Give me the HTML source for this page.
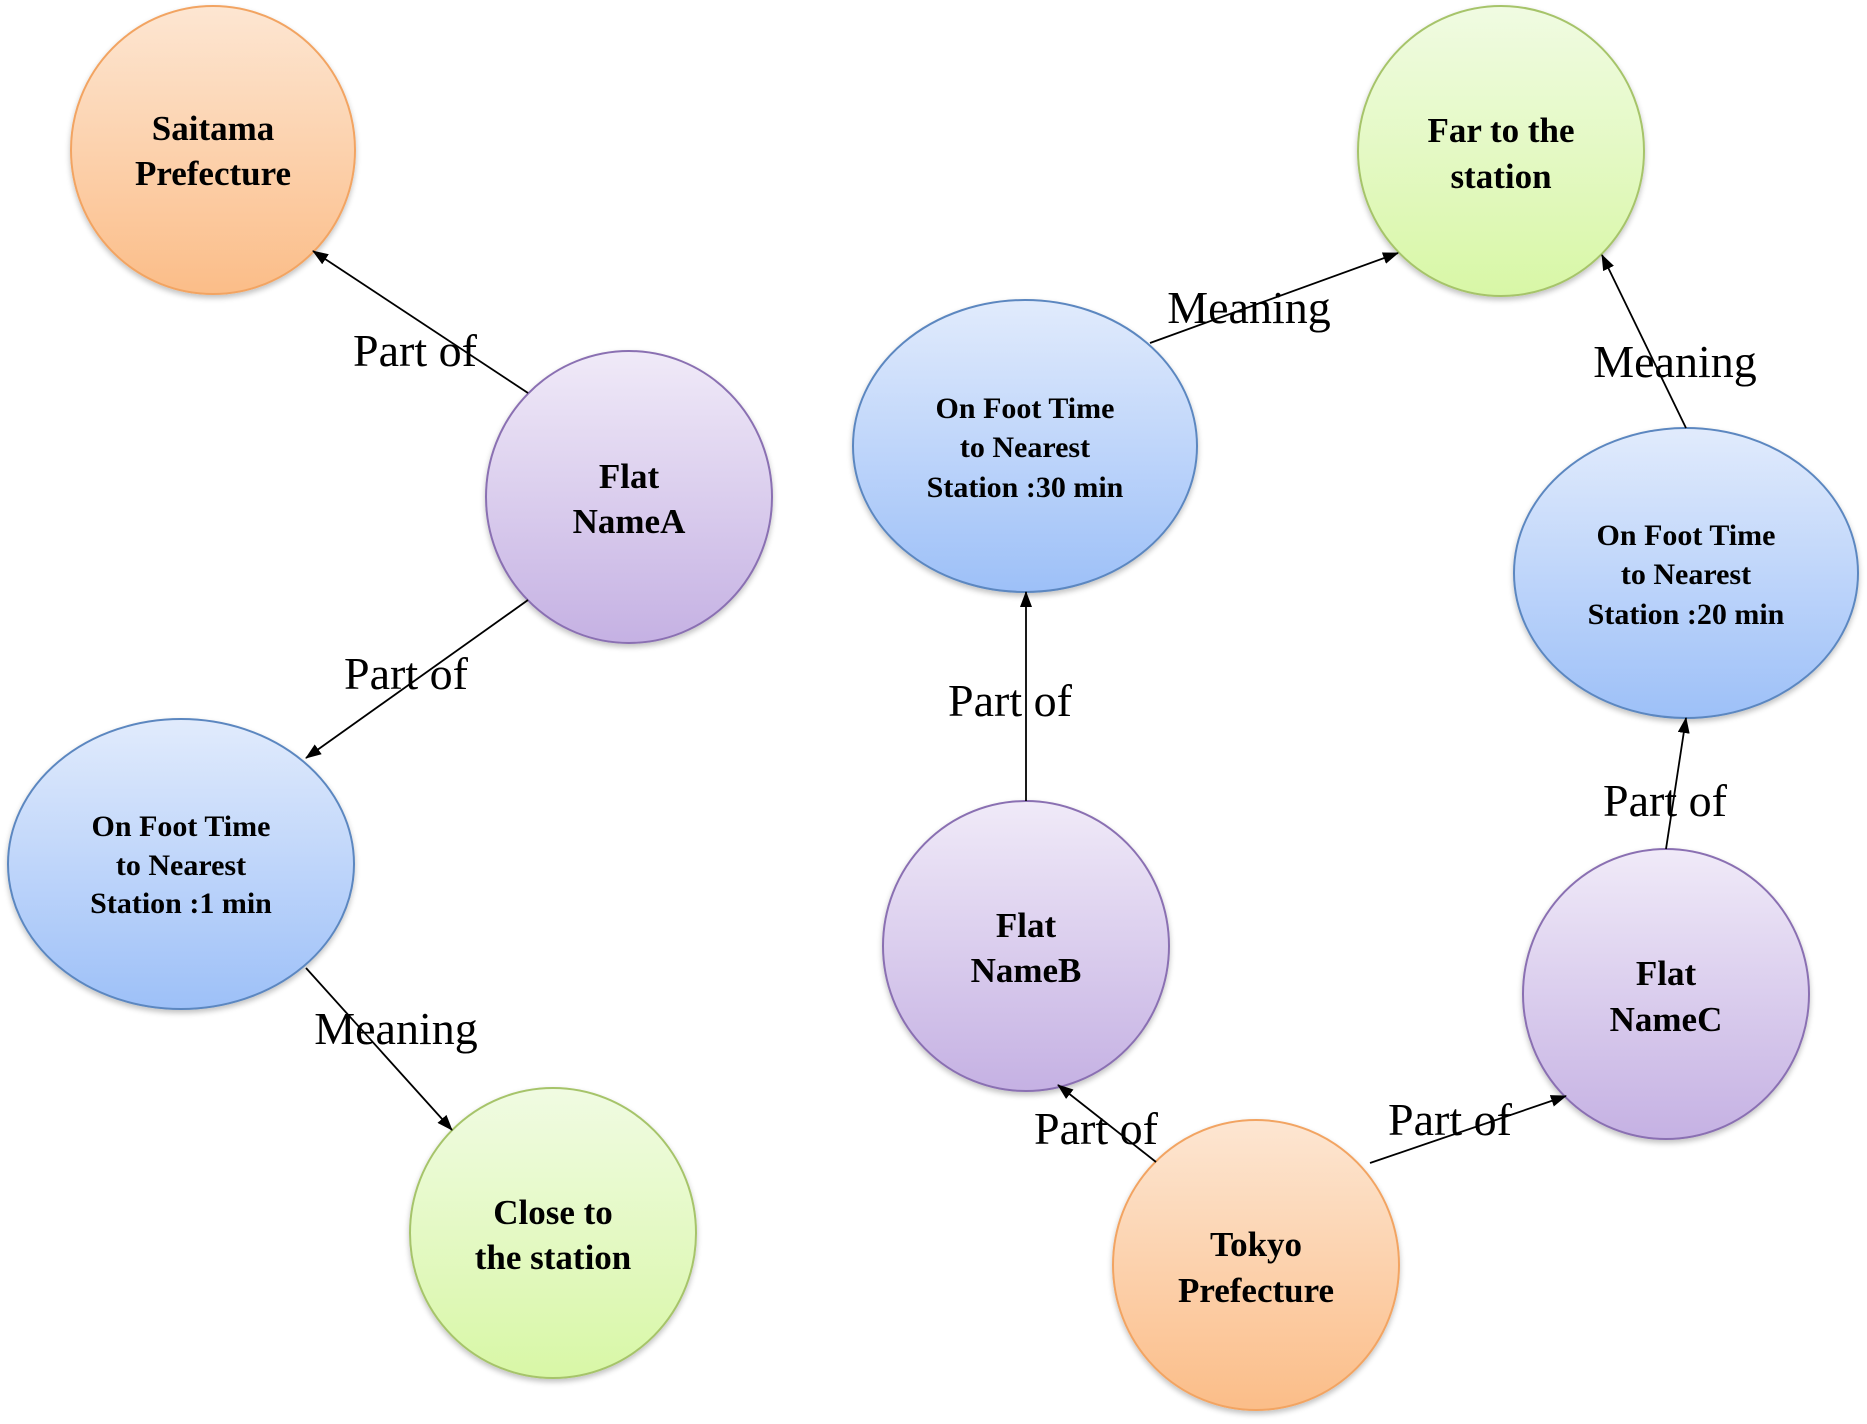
<!DOCTYPE html>
<html>
<head>
<meta charset="utf-8">
<style>
  html, body { margin: 0; padding: 0; background: #ffffff; }
  svg { display: block; }
  .node { font-family: "Liberation Serif", "Times New Roman", serif; font-weight: bold; font-size: 35px; fill: #000; }
  .small { font-size: 30px; }
  .lbl { font-family: "Liberation Serif", "Times New Roman", serif; font-size: 46px; fill: #000; }
</style>
</head>
<body>
<svg width="1867" height="1424" viewBox="0 0 1867 1424" xmlns="http://www.w3.org/2000/svg">
  <defs>
    <linearGradient id="gOr" x1="0" y1="0" x2="0" y2="1">
      <stop offset="0" stop-color="#fde6d2"/>
      <stop offset="1" stop-color="#fbbd88"/>
    </linearGradient>
    <linearGradient id="gPu" x1="0" y1="0" x2="0" y2="1">
      <stop offset="0" stop-color="#f0eaf8"/>
      <stop offset="1" stop-color="#c5b1e3"/>
    </linearGradient>
    <linearGradient id="gBl" x1="0" y1="0" x2="0" y2="1">
      <stop offset="0" stop-color="#e1ebfc"/>
      <stop offset="1" stop-color="#9dc0f8"/>
    </linearGradient>
    <linearGradient id="gGr" x1="0" y1="0" x2="0" y2="1">
      <stop offset="0" stop-color="#f0fbe2"/>
      <stop offset="1" stop-color="#d8f7a6"/>
    </linearGradient>
    <filter id="sh" x="-10%" y="-10%" width="120%" height="125%">
      <feGaussianBlur in="SourceAlpha" stdDeviation="3"/>
      <feOffset dx="0" dy="3" result="b"/>
      <feComponentTransfer><feFuncA type="linear" slope="0.25"/></feComponentTransfer>
      <feMerge><feMergeNode/><feMergeNode in="SourceGraphic"/></feMerge>
    </filter>
    <marker id="arr" viewBox="0 0 16 12" refX="15" refY="6" markerWidth="16" markerHeight="12" markerUnits="userSpaceOnUse" orient="auto">
      <path d="M0,0 L16,6 L0,12 Z" fill="#000"/>
    </marker>
  </defs>

  <!-- Nodes -->
  <g filter="url(#sh)">
    <ellipse cx="213" cy="150" rx="142" ry="144" fill="url(#gOr)" stroke="#f2a462" stroke-width="2"/>
    <ellipse cx="629" cy="497" rx="143" ry="146" fill="url(#gPu)" stroke="#8a6fb2" stroke-width="2"/>
    <ellipse cx="181" cy="864" rx="173" ry="145" fill="url(#gBl)" stroke="#5b87c0" stroke-width="2"/>
    <ellipse cx="553" cy="1233" rx="143" ry="145" fill="url(#gGr)" stroke="#a6c46a" stroke-width="2"/>
    <ellipse cx="1501" cy="151" rx="143" ry="145" fill="url(#gGr)" stroke="#a6c46a" stroke-width="2"/>
    <ellipse cx="1025" cy="446" rx="172" ry="146" fill="url(#gBl)" stroke="#5b87c0" stroke-width="2"/>
    <ellipse cx="1686" cy="573" rx="172" ry="145" fill="url(#gBl)" stroke="#5b87c0" stroke-width="2"/>
    <ellipse cx="1026" cy="946" rx="143" ry="145" fill="url(#gPu)" stroke="#8a6fb2" stroke-width="2"/>
    <ellipse cx="1666" cy="994" rx="143" ry="145" fill="url(#gPu)" stroke="#8a6fb2" stroke-width="2"/>
    <ellipse cx="1256" cy="1265" rx="143" ry="145" fill="url(#gOr)" stroke="#f2a462" stroke-width="2"/>
  </g>

  <!-- Connectors -->
  <g stroke="#000" stroke-width="1.8" fill="none" marker-end="url(#arr)">
    <line x1="528" y1="393" x2="313" y2="251"/>
    <line x1="528" y1="600" x2="306" y2="758"/>
    <line x1="306" y1="968" x2="452" y2="1130"/>
    <line x1="1150" y1="343" x2="1398" y2="253"/>
    <line x1="1686" y1="428" x2="1602" y2="255"/>
    <line x1="1026" y1="801" x2="1026" y2="592"/>
    <line x1="1666" y1="849" x2="1686" y2="718"/>
    <line x1="1156" y1="1162" x2="1058" y2="1085"/>
    <line x1="1370" y1="1163" x2="1566" y2="1096"/>
  </g>

  <!-- Node texts -->
  <g class="node" text-anchor="middle">
    <text x="213" y="140">Saitama</text>
    <text x="213" y="185">Prefecture</text>

    <text x="629" y="488">Flat</text>
    <text x="629" y="533">NameA</text>

    <text x="181" y="836" class="node small">On Foot Time</text>
    <text x="181" y="875" class="node small">to Nearest</text>
    <text x="181" y="913" class="node small">Station :1 min</text>

    <text x="553" y="1224">Close to</text>
    <text x="553" y="1269">the station</text>

    <text x="1501" y="142">Far to the</text>
    <text x="1501" y="188">station</text>

    <text x="1025" y="418" class="node small">On Foot Time</text>
    <text x="1025" y="457" class="node small">to Nearest</text>
    <text x="1025" y="497" class="node small">Station :30 min</text>

    <text x="1686" y="545" class="node small">On Foot Time</text>
    <text x="1686" y="584" class="node small">to Nearest</text>
    <text x="1686" y="624" class="node small">Station :20 min</text>

    <text x="1026" y="937">Flat</text>
    <text x="1026" y="982">NameB</text>

    <text x="1666" y="985">Flat</text>
    <text x="1666" y="1031">NameC</text>

    <text x="1256" y="1256">Tokyo</text>
    <text x="1256" y="1302">Prefecture</text>
  </g>

  <!-- Edge labels -->
  <g class="lbl" text-anchor="middle">
    <text x="415" y="366">Part of</text>
    <text x="406" y="689">Part of</text>
    <text x="396" y="1044">Meaning</text>
    <text x="1249" y="323">Meaning</text>
    <text x="1675" y="377">Meaning</text>
    <text x="1010" y="716">Part of</text>
    <text x="1665" y="816">Part of</text>
    <text x="1096" y="1144">Part of</text>
    <text x="1450" y="1135">Part of</text>
  </g>
</svg>
</body>
</html>
